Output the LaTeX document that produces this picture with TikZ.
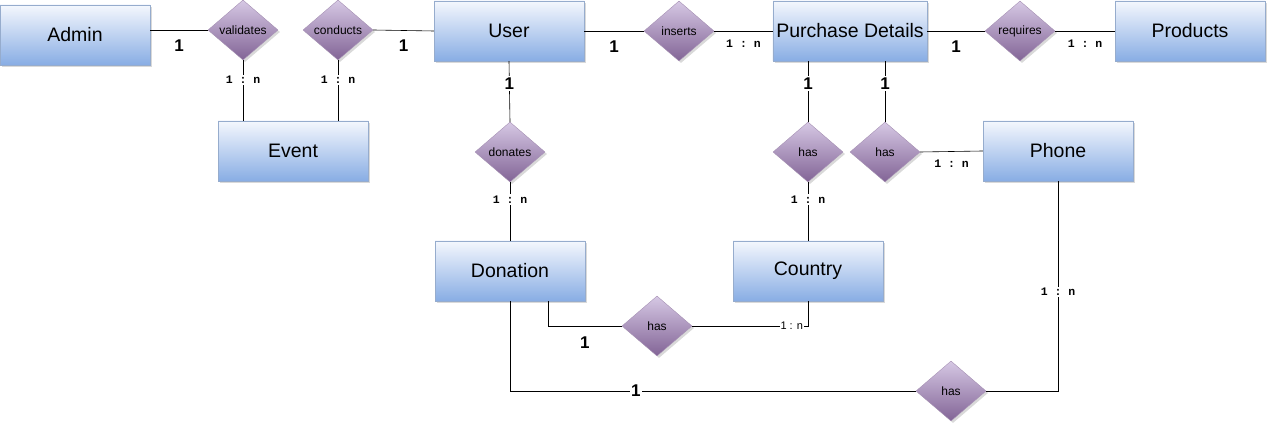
\documentclass[tikz,border=0pt]{standalone}
\usepackage{fontspec}
\setmainfont{Liberation Sans}
\setmonofont{Liberation Mono}
\usetikzlibrary{shapes.geometric,shadows}
\definecolor{enttop}{RGB}{244,247,253}
\definecolor{entmid}{RGB}{172,199,238}
\definecolor{entbot}{RGB}{136,173,228}
\definecolor{entline}{RGB}{150,172,205}
\definecolor{reltop}{RGB}{214,200,228}
\definecolor{relmid}{RGB}{172,148,190}
\definecolor{relbot}{RGB}{130,100,150}
\tikzset{
  ent/.style={rectangle,draw=entline,thin,top color=enttop,middle color=entmid,bottom color=entbot,
    minimum width=150pt,minimum height=60pt,font=\fontsize{19.5}{20}\selectfont,
    drop shadow={shadow xshift=2pt,shadow yshift=-2pt,opacity=.3}},
  rel/.style={diamond,aspect=1.17,inner sep=0pt,minimum width=70pt,minimum height=60pt,draw=relbot!70,thin,
    top color=reltop,middle color=relmid,bottom color=relbot,font=\fontsize{12}{13}\selectfont,
    drop shadow={shadow xshift=2pt,shadow yshift=-2pt,opacity=.3}},
  one/.style={font=\bfseries\fontsize{17}{18}\selectfont},
  many/.style={font=\ttfamily\bfseries\fontsize{11.5}{12}\selectfont},
  gap/.style={fill=white,inner sep=1.5pt}
}
\begin{document}
\begin{tikzpicture}[x=1pt,y=-1pt,semithick]
\useasboundingbox (0,0) rectangle (1269,427);
\node[ent] (adm) at (75,35) {Admin};
\node[ent] (usr) at (509,31) {User};
\node[ent] (pd) at (850,31) {Purchase Details};
\node[ent] (prd) at (1190,31) {Products};
\node[ent] (evt) at (293,151) {Event};
\node[ent] (phn) at (1058,151) {Phone};
\node[ent] (don) at (510,271) {Donation};
\node[ent] (cty) at (808,271) {Country};
\node[rel] (val) at (243,30) {validates};
\node[rel] (con) at (338,30) {conducts};
\node[rel] (ins) at (679,31) {inserts};
\node[rel] (req) at (1020,31) {requires};
\node[rel] (dnt) at (510,152) {donates};
\node[rel] (hs1) at (808,152) {has};
\node[rel] (hs2) at (885,152) {has};
\node[rel] (hs3) at (657,326) {has};
\node[rel] (hs4) at (951,391) {has};
\draw (adm.east |- val.west) -- node[one,below=6pt]{1} (val.west);
\draw (val.south) -- node[many,gap,pos=.33]{1 : n} (val.south |- evt.north);
\draw (con.south) -- node[many,gap,pos=.33]{1 : n} (con.south |- evt.north);
\draw (con.east) -- node[one,below=6pt]{1} (usr.west);
\draw (usr.east) -- node[one,below=6pt]{1} (ins.west);
\draw (ins.east) -- node[many,below=5pt]{1 : n} (pd.west);
\draw (pd.east) -- node[one,below=6pt]{1} (req.west);
\draw (req.east) -- node[many,below=5pt]{1 : n} (prd.west);
\draw (usr.south) -- node[one,gap,pos=.37]{1} (dnt.north);
\draw (dnt.south) -- node[many,gap,pos=.3]{1 : n} (don.north);
\draw (hs1.north |- pd.south) -- node[one,gap,pos=.37]{1} (hs1.north);
\draw (hs1.south) -- node[many,gap,pos=.3]{1 : n} (cty.north);
\draw (hs2.north |- pd.south) -- node[one,gap,pos=.37]{1} (hs2.north);
\draw (hs2.east) -- node[many,below=5pt]{1 : n} (phn.west);
\draw ([xshift=38pt]don.south) |- node[one,below=7pt,pos=.75]{1} (hs3.west);
\draw (hs3.east) -| node[gap,inner sep=1pt,pos=.43,font=\fontsize{11}{12}\selectfont]{1 : n} (cty.south);
\draw (don.south) |- node[one,gap,pos=.655]{1} (hs4.west);
\draw (hs4.east) -| node[many,gap,pos=.736]{1 : n} (phn.south);
\end{tikzpicture}
\end{document}
